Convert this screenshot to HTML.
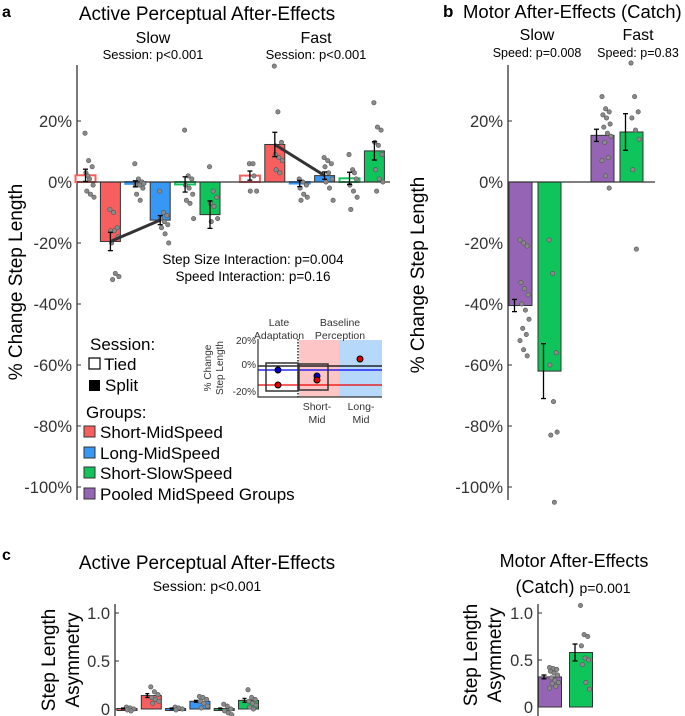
<!DOCTYPE html>
<html><head><meta charset="utf-8"><style>
body{margin:0;background:#fff}
svg{display:block;font-family:"Liberation Sans",sans-serif}
</style></head><body>
<svg id="fig" width="685" height="716" viewBox="0 0 685 716">
<g id="a">
<text x="2" y="17" font-size="16" font-weight="bold">a</text>
<text x="207" y="20" font-size="19" text-anchor="middle">Active Perceptual After-Effects</text>
<text x="153" y="43" font-size="16" text-anchor="middle">Slow</text>
<text x="153" y="59" font-size="13" text-anchor="middle">Session: p&lt;0.001</text>
<text x="316" y="43" font-size="16" text-anchor="middle">Fast</text>
<text x="316" y="59" font-size="13" text-anchor="middle">Session: p&lt;0.001</text>
<text transform="translate(22,282) rotate(-90)" font-size="19" text-anchor="middle">% Change Step Length</text>
<text x="253" y="264" font-size="13.5" text-anchor="middle">Step Size Interaction: p=0.004</text>
<text x="253" y="281" font-size="13.5" text-anchor="middle">Speed Interaction: p=0.16</text>
</g>
<g id="b">
<text x="443" y="17" font-size="17" font-weight="bold">b</text>
<text x="463" y="18" font-size="18.5">Motor After-Effects (Catch)</text>
<text x="537" y="40" font-size="16" text-anchor="middle">Slow</text>
<text x="537" y="57" font-size="12.5" text-anchor="middle">Speed: p=0.008</text>
<text x="638" y="40" font-size="16" text-anchor="middle">Fast</text>
<text x="638" y="57" font-size="12.5" text-anchor="middle">Speed: p=0.83</text>
<text transform="translate(424,275) rotate(-90)" font-size="19" text-anchor="middle">% Change Step Length</text>
</g>
<g id="legend">
<text x="90" y="350" font-size="17">Session:</text>
<rect x="89" y="358" width="11" height="11" fill="#fff" stroke="#000" stroke-width="1.2"/>
<text x="104" y="370" font-size="17">Tied</text>
<rect x="89" y="380" width="11" height="11" fill="#000"/>
<text x="105" y="391" font-size="17">Split</text>
<text x="86" y="418" font-size="17">Groups:</text>
<rect x="84" y="426" width="11" height="11" fill="#f75f5f" stroke="#333"/>
<text x="100" y="438" font-size="17">Short-MidSpeed</text>
<rect x="84" y="447" width="11" height="11" fill="#3797f5" stroke="#333"/>
<text x="100" y="459" font-size="17">Long-MidSpeed</text>
<rect x="84" y="467" width="11" height="11" fill="#10c45c" stroke="#333"/>
<text x="100" y="479" font-size="17">Short-SlowSpeed</text>
<rect x="84" y="488" width="11" height="11" fill="#9664b4" stroke="#333"/>
<text x="100" y="500" font-size="17">Pooled MidSpeed Groups</text>
</g>
<g id="inset">
<rect x="299" y="340" width="40" height="57" fill="#fdc5c5"/>
<rect x="339" y="340" width="43" height="57" fill="#b6d8fb"/>
<line x1="298" y1="339" x2="298" y2="398" stroke="#000" stroke-width="1.3" stroke-dasharray="1.5,1.5"/>
<line x1="258" y1="366" x2="382" y2="366" stroke="#000" stroke-width="1.2"/>
<line x1="258" y1="370" x2="382" y2="370" stroke="#0000ee" stroke-width="1.3"/>
<line x1="258" y1="385" x2="382" y2="385" stroke="#ee0000" stroke-width="1.3"/>
<rect x="266" y="363" width="32" height="28" fill="none" stroke="#333" stroke-width="1.5"/>
<rect x="299" y="364" width="29" height="26" fill="none" stroke="#333" stroke-width="1.5"/>
<circle cx="278" cy="370" r="3" fill="#0000cc" stroke="#000"/>
<circle cx="278" cy="385" r="3" fill="#dd0000" stroke="#000"/>
<circle cx="317" cy="376" r="3" fill="#0000cc" stroke="#000"/>
<circle cx="317" cy="380" r="3" fill="#dd0000" stroke="#000"/>
<circle cx="360" cy="359" r="3" fill="#dd0000" stroke="#000"/>
<path d="M258,339 V397 H382" fill="none" stroke="#333" stroke-width="1.2"/>
<g font-size="10" text-anchor="end" fill="#333">
<text x="256" y="344">20%</text>
<text x="256" y="368">0%</text>
<text x="256" y="395">-20%</text>
</g>
<g font-size="10.5" text-anchor="middle" fill="#333">
<text x="279" y="326">Late</text>
<text x="279" y="339">Adaptation</text>
<text x="340" y="326">Baseline</text>
<text x="340" y="339">Perception</text>
<text x="317" y="410">Short-</text>
<text x="317" y="423">Mid</text>
<text x="361" y="410">Long-</text>
<text x="361" y="423">Mid</text>
<text transform="translate(211,368) rotate(-90)" font-size="10">% Change</text>
<text transform="translate(223,368) rotate(-90)" font-size="10">Step Length</text>
</g>
</g>
<g id="c">
<text x="2" y="560" font-size="16" font-weight="bold">c</text>
<text x="207" y="569" font-size="19" text-anchor="middle">Active Perceptual After-Effects</text>
<text x="207" y="591" font-size="14" text-anchor="middle">Session: p&lt;0.001</text>
<text transform="translate(55,660) rotate(-90)" font-size="19" text-anchor="middle">Step Length</text>
<text transform="translate(79,660) rotate(-90)" font-size="19" text-anchor="middle">Asymmetry</text>
<text x="574" y="567" font-size="18" text-anchor="middle">Motor After-Effects</text>
<text x="573" y="593" font-size="18" text-anchor="middle">(Catch) <tspan font-size="14">p=0.001</tspan></text>
<text transform="translate(477,655) rotate(-90)" font-size="19" text-anchor="middle">Step Length</text>
<text transform="translate(501,655) rotate(-90)" font-size="19" text-anchor="middle">Asymmetry</text>
</g>
</svg>
<script>
// ---- Panel a data (% change) ----
const aCategories = ["slow-tied-short","slow-split-short","slow-tied-long","slow-split-long","slow-tied-slow","slow-split-slow","fast-tied-short","fast-split-short","fast-tied-long","fast-split-long","fast-tied-slow","fast-split-slow"];
const aGroups = ["red","red","blue","blue","green","green","red","red","blue","blue","green","green"];
const aTied = [1,0,1,0,1,0,1,0,1,0,1,0];
const aMeans = [2.2,-19.5,-0.6,-12.5,-0.8,-10.7,2.1,12.3,-0.5,2.1,1.2,10.2];
const aErr = [2,3,1,1.5,2.5,4.5,1.5,4,1,1.2,2,3];
const aDots = [
 [16,7,5,3,1,-1,-3,-4,-5,2],[-9,-10,-15,-16,-16,-18,-20,-30,-31,-32],
 [6,1,0,-1,-1,-2,-4,-6,-0.5],[-3,-10,-11,-12,-13,-14,-15,-17,-20],
 [17,2,1,-1,-2,-4,-6,-7,-12],[5,-3,-5,-7,-8,-12,-13],
 [6,6,-3,-3,2],[38,23,13,9,8,7,4,3],
 [1,0,-1,-2,-4,-5,-6],[8,7,6,5,3,1,0,-2,-6],
 [9,4,1,-1,-3,-5,-9,3],[26,18,17,13,12,9,4,1,0,-3]];
const aTicks = [20,0,-20,-40,-60,-80,-100];
const aTickLabels = ["20%","0%","-20%","-40%","-60%","-80%","-100%"];
// ---- Panel b data ----
const bCategories = ["slow-pooled","slow-short-slow","fast-pooled","fast-short-slow"];
const bGroups = ["purple","green","purple","green"];
const bMeans = [-40.5,-62,15.3,16.4];
const bErr = [2,9,2,6];
const bDots = [[-19,-20,-21,-33,-35,-37,-40,-42,-45,-48,-50,-52,-55,-57],
 [-19,-30,-56,-60,-72,-82,-83,-105],
 [28,24,23,22,21,19,18,16,15,13,8,7,2,-2],
 [39,28,23,21,17,14,4,-22]];
// ---- Panel c data (asymmetry) ----
const cGroups = ["red","red","blue","blue","green","green"];
const cTied = [1,0,1,0,1,0];
const cMeans = [0.005,0.14,0.005,0.08,0.005,0.09];
const cErr = [0.005,0.02,0.005,0.01,0.005,0.02];
const cDots = [[0.02,0.01,0,-0.01,-0.02],[0.23,0.18,0.15,0.12,0.1,0.08,0.06],[0.02,0.01,0,-0.01],[0.13,0.12,0.1,0.08,0.06,0.03,0.01],[0.05,0.03,0,-0.02,-0.04,-0.06],[0.2,0.12,0.1,0.08,0.06,0.04,0.02,0]];
const cMotorGroups = ["purple","green"];
const cMotorMeans = [0.32,0.58];
const cMotorErr = [0.02,0.09];
const cMotorDots = [[0.42,0.41,0.4,0.38,0.36,0.34,0.31,0.28,0.26,0.25,0.22,0.2],[1.08,0.77,0.75,0.65,0.52,0.5,0.45,0.26,0.19]];
const cTicks = [0,0.5,1];
const cTickLabels = ["0","0.5","1.0"];

const COL = {red:"#f75f5f",blue:"#3797f5",green:"#10c45c",purple:"#9664b4"};
const NS = "http://www.w3.org/2000/svg";
const svg = document.getElementById("fig");
function mk(tag, attrs, parent){const e=document.createElementNS(NS,tag);for(const k in attrs)e.setAttribute(k,attrs[k]);(parent||svg).appendChild(e);return e;}

const yA = v => 182 - v*3.05;
const xA = i => 85.5 + i*24.9 + (i>=6?15:0);
const xB = i => 520.5 + i*29 + (i>=2?24:0);
const yC = v => 709 - v*96;
const xC = i => 127 + i*24.3;
const yC2 = v => 707 - v*94;
const xC2 = i => 550 + i*31;

function drawDots(xc, vals, yf, name){
  vals.forEach((v,j)=>{
    const off = ((j*37)%11 - 5)*0.9 + 4;
    const c = mk("circle",{cx:xc+off,cy:yf(v),r:2.2,fill:"#8a8a8a",stroke:"#555","stroke-width":0.6});
    
    
  });
}
function errBar(xc, m, e, yf, name, w){
  const g = mk("g",{stroke:"#000","stroke-width":1.3});
  
  
  mk("line",{x1:xc,x2:xc,y1:yf(m-e),y2:yf(m+e)},g);
  mk("line",{x1:xc-w,x2:xc+w,y1:yf(m-e),y2:yf(m-e)},g);
  mk("line",{x1:xc-w,x2:xc+w,y1:yf(m+e),y2:yf(m+e)},g);
}
function bar(xc, w, m, yf, color, tied, name, thick){
  const y0=yf(0), y1=yf(m);
  const r = mk("rect",{x:xc-w/2,y:Math.min(y0,y1),width:w,height:Math.max(Math.abs(y1-y0),thick||1),
    fill:tied?"#fff":color,stroke:tied?color:"#333","stroke-width":tied?2:1});
  
  
}
function yAxis(x, yf, top, bottom, ticks, labels, name, fs){
  const l = mk("line",{x1:x,x2:x,y1:top,y2:bottom,stroke:"#333","stroke-width":1.3});
  
  
  ticks.forEach((t,i)=>{
    mk("line",{x1:x,x2:x+4,y1:yf(t),y2:yf(t),stroke:"#333","stroke-width":1});
    const tx = mk("text",{x:x-5,y:yf(t)+fs*0.36,"font-size":fs,"text-anchor":"end",fill:"#333"});
    tx.textContent = labels[i];
    
    
  });
}

yAxis(77, yA, 65, 500, aTicks, aTickLabels, "a", 16.5);
aMeans.forEach((m,i)=>{ bar(xA(i),20,m,yA,COL[aGroups[i]],aTied[i],"bar-a-"+aCategories[i]); });
const za = mk("line",{x1:77,x2:390,y1:yA(0),y2:yA(0),stroke:"#333","stroke-width":1.3});


aDots.forEach((d,i)=>drawDots(xA(i),d,yA,"a-"+aCategories[i]));
[[1,3],[7,9]].forEach(p=>{
  const l = mk("line",{x1:xA(p[0]),y1:yA(aMeans[p[0]]),x2:xA(p[1]),y2:yA(aMeans[p[1]]),stroke:"#333","stroke-width":3});
  
  
});
aMeans.forEach((m,i)=>errBar(xA(i),m,aErr[i],yA,"a-"+aCategories[i],2.5));

yAxis(508, yA, 65, 500, aTicks, aTickLabels, "b", 16.5);
bMeans.forEach((m,i)=>bar(xB(i),23,m,yA,COL[bGroups[i]],0,"bar-b-"+bCategories[i]));
const zb = mk("line",{x1:508,x2:655,y1:yA(0),y2:yA(0),stroke:"#333","stroke-width":1.3});


bDots.forEach((d,i)=>drawDots(xB(i),d,yA,"b-"+bCategories[i]));
bMeans.forEach((m,i)=>errBar(xB(i)-6,m,bErr[i],yA,"b-"+bCategories[i],2.5));

yAxis(115, yC, 604, 716, cTicks, cTickLabels, "c-left", 16.5);
cMeans.forEach((m,i)=>bar(xC(i),20,m,yC,COL[cGroups[i]],0,"bar-c-"+i, cTied[i]?2:1));
cDots.forEach((d,i)=>drawDots(xC(i),d,yC,"c-"+i));
cMeans.forEach((m,i)=>errBar(xC(i)-4,m,cErr[i],yC,"c-"+i,2));
yAxis(538, yC2, 604, 716, cTicks, cTickLabels, "c-right", 16.5);
cMotorMeans.forEach((m,i)=>bar(xC2(i),23,m,yC2,COL[cMotorGroups[i]],0,"bar-c-motor-"+i));
cMotorDots.forEach((d,i)=>drawDots(xC2(i),d,yC2,"c-motor-"+i));
cMotorMeans.forEach((m,i)=>errBar(xC2(i)-6,m,cMotorErr[i],yC2,"c-motor-"+i,2.5));
</script>
</body></html>
